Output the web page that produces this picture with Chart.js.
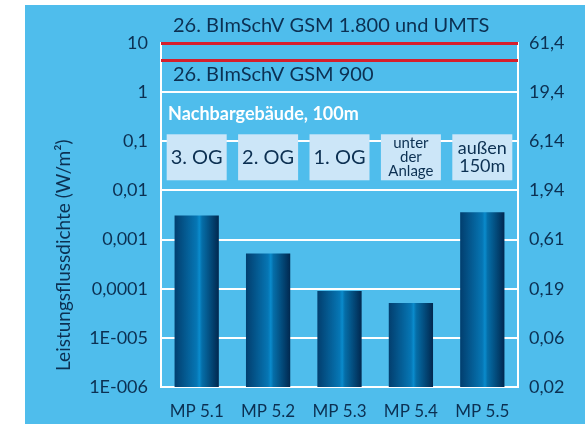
<!DOCTYPE html>
<html lang="de">
<head>
<meta charset="utf-8">
<title>Leistungsflussdichte Nachbargebäude</title>
<script src="https://cdn.jsdelivr.net/npm/chart.js@4.4.1/dist/chart.umd.min.js"></script>
<style>
  html, body { margin: 0; padding: 0; background: #ffffff; overflow: hidden; }
  #panel { position: absolute; left: 25px; top: 5px; width: 560px; height: 419px; background: #4fbdec; }
  canvas { display: block; }
</style>
</head>
<body>
<div id="panel"><canvas id="chart" width="560" height="419"></canvas></div>
<script>
// Messwerte Leistungsflussdichte (W/m²), log. Skala
const categories = ['MP 5.1', 'MP 5.2', 'MP 5.3', 'MP 5.4', 'MP 5.5'];
const powerDensity = [0.0031, 0.00052, 0.00009, 0.000051, 0.0036];

const leftTickValues = [0.000001, 0.00001, 0.0001, 0.001, 0.01, 0.1, 1, 10];
const leftTickLabels = ['1E-006', '1E-005', '0,0001', '0,001', '0,01', '0,1', '1', '10'];
const rightTickLabels = ['0,02', '0,06', '0,19', '0,61', '1,94', '6,14', '19,4', '61,4'];

// Grenzwerte 26. BImSchV
const limitValues = [10, 4.5];
const limitLabels = ['26. BImSchV GSM 1.800 und UMTS', '26. BImSchV GSM 900'];

const groupTitle = 'Nachbargebäude, 100m';
const locationLabels = [['3. OG'], ['2. OG'], ['1. OG'], ['unter', 'der', 'Anlage'], ['außen', '150m']];
const yTitle = 'Leistungsflussdichte (W/m²)';

const NAVY = '#0c3052';
const FONT = 'Lato, "Open Sans", sans-serif';

/**
 * Bars: horizontal gradient, dark edges, bright middle
 */
const barGradientPlugin = {
  id: 'barGradient',
  beforeDatasetsDraw(chart) {
    const ctx = chart.ctx;
    chart.getDatasetMeta(0).data.forEach(el => {
      const x0 = el.x - el.width / 2;
      const g = ctx.createLinearGradient(x0, 0, x0 + el.width, 0);
      g.addColorStop(0, '#023e6e');
      g.addColorStop(0.5, '#0676b4');
      g.addColorStop(0.56, '#0a8bcc');
      g.addColorStop(0.62, '#056ea8');
      g.addColorStop(1, '#01284f');
      el.options = Object.assign({}, el.options, { backgroundColor: g });
    });
  },
};

/**
 * Limit lines, labels, location boxes and axis title
 */
const annotationPlugin = {
  id: 'annotations',
  afterDatasetsDraw(chart) {
    const { ctx, chartArea } = chart;
    const y = chart.scales.y;
    const x = chart.scales.x;
    ctx.save();

    // red limit lines
    ctx.strokeStyle = '#d61f2c';
    ctx.lineWidth = 3;
    limitValues.forEach(v => {
      const py = Math.round(y.getPixelForValue(v)) + 0.5;
      ctx.beginPath();
      ctx.moveTo(chartArea.left, py);
      ctx.lineTo(chartArea.right, py);
      ctx.stroke();
    });

    // limit labels
    ctx.fillStyle = NAVY;
    ctx.font = `20px ${FONT}`;
    ctx.textAlign = 'left';
    ctx.textBaseline = 'middle';
    ctx.fillText(limitLabels[0], chartArea.left + 12, y.getPixelForValue(limitValues[0]) - 17);
    ctx.fillText(limitLabels[1], chartArea.left + 12, y.getPixelForValue(limitValues[1]) + 15);

    // group title
    ctx.fillStyle = '#ffffff';
    ctx.font = `bold 18px ${FONT}`;
    ctx.fillText(groupTitle, chartArea.left + 7, y.getPixelForValue(1) + 22);

    // location boxes
    const boxTop = y.getPixelForValue(0.1) - 7;
    const boxW = 60, boxH = 46;
    locationLabels.forEach((lines, i) => {
      const cx = x.getPixelForValue(i);
      ctx.fillStyle = '#cce6f8';
      ctx.fillRect(cx - boxW / 2, boxTop, boxW, boxH);
      ctx.fillStyle = NAVY;
      ctx.textAlign = 'center';
      const size = lines.length === 1 ? 20 : lines.length === 2 ? 18 : 15;
      const step = lines.length === 2 ? 17.5 : 14;
      ctx.font = `${size}px ${FONT}`;
      const mid = boxTop + boxH / 2;
      lines.forEach((t, k) => {
        ctx.fillText(t, cx, mid + (k - (lines.length - 1) / 2) * step);
      });
    });

    // y axis title, rotated
    ctx.translate(39, (y.getPixelForValue(0.1) + y.getPixelForValue(0.000001)) / 2 - 9);
    ctx.rotate(-Math.PI / 2);
    ctx.fillStyle = NAVY;
    ctx.font = `19px ${FONT}`;
    ctx.textAlign = 'center';
    ctx.fillText(yTitle, 0, 0);

    ctx.restore();
  },
};

const decadeTicks = scale => {
  scale.ticks = leftTickValues.map(v => ({ value: v }));
};

new Chart(document.getElementById('chart'), {
  type: 'bar',
  data: {
    labels: categories,
    datasets: [{
      data: powerDensity,
      // scriptable so every bar gets its own options object
      backgroundColor: c => '#0676b4',
      borderWidth: 0,
      categoryPercentage: 1,
      barPercentage: 0.62,
    }],
  },
  options: {
    responsive: false,
    animation: false,
    layout: { padding: { top: 38, right: 0, bottom: 0, left: 0 } },
    plugins: { legend: { display: false }, tooltip: { enabled: false } },
    scales: {
      x: {
        grid: { display: false },
        border: { color: '#ffffff', width: 2 },
        ticks: { color: NAVY, font: { family: FONT, size: 17 }, padding: 6 },
        afterFit: s => { s.height = 37; },
      },
      y: {
        type: 'logarithmic',
        position: 'left',
        min: 0.000001,
        max: 10,
        afterBuildTicks: decadeTicks,
        grid: { color: '#ffffff', lineWidth: 2, drawTicks: false },
        border: { color: '#ffffff', width: 2 },
        ticks: {
          color: NAVY,
          font: { family: FONT, size: 18 },
          padding: 13,
          autoSkip: false,
          callback: v => leftTickLabels[leftTickValues.indexOf(v)],
        },
        afterFit: s => { s.width = 136; },
      },
      y1: {
        type: 'logarithmic',
        position: 'right',
        min: 0.000001,
        max: 10,
        afterBuildTicks: decadeTicks,
        grid: { drawOnChartArea: false, drawTicks: false },
        border: { color: '#ffffff', width: 2 },
        ticks: {
          color: NAVY,
          font: { family: FONT, size: 18 },
          padding: 11,
          autoSkip: false,
          callback: v => rightTickLabels[leftTickValues.indexOf(v)],
        },
        afterFit: s => { s.width = 67; },
      },
    },
  },
  plugins: [barGradientPlugin, annotationPlugin],
});
</script>
</body>
</html>
